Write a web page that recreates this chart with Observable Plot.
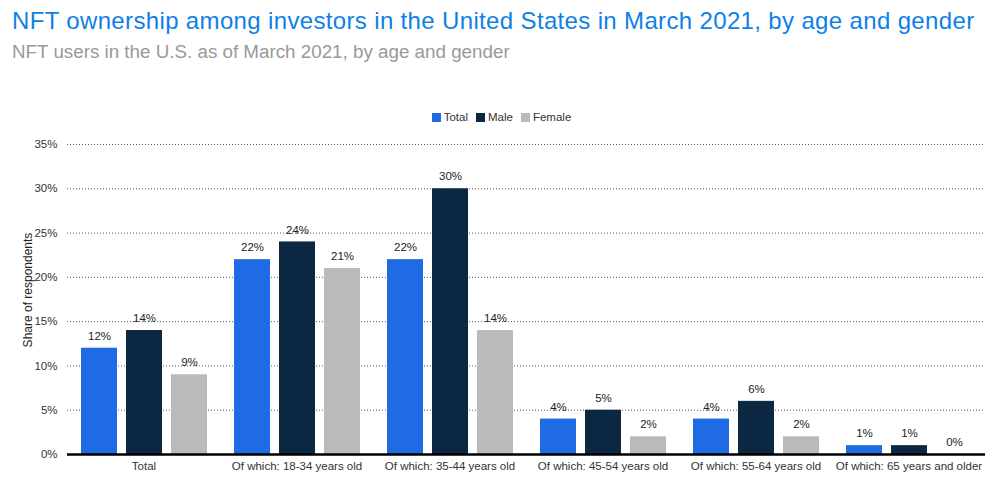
<!DOCTYPE html>
<html><head><meta charset="utf-8">
<script src="https://cdn.jsdelivr.net/npm/d3@7"></script>
<script src="https://cdn.jsdelivr.net/npm/@observablehq/plot@0.6"></script>
<style>
body{margin:0;background:#fff;font-family:"Liberation Sans",Arial,sans-serif;}
#wrap{position:relative;width:1003px;height:481px;overflow:hidden;}
#title{position:absolute;left:12px;top:7px;font-size:24px;letter-spacing:0.35px;color:#0f80e6;white-space:nowrap;line-height:1.15;}
#sub{position:absolute;left:12px;top:41px;font-size:18.8px;color:#999;white-space:nowrap;line-height:1.15;}
#legend{position:absolute;left:0;width:1003px;top:111px;text-align:center;font-size:11.5px;color:#333;}
#legend span{display:inline-block;margin:0 4px;}
#legend i{display:inline-block;width:9px;height:9px;margin-right:3px;vertical-align:-1px;}
#chart{position:absolute;left:0;top:130px;}
#ylabel{position:absolute;left:28px;top:290px;transform:translate(-50%,-50%) rotate(-90deg);font-size:12px;color:#222;white-space:nowrap;z-index:2;}
</style></head><body>
<div id="wrap">
<div id="title">NFT ownership among investors in the United States in March 2021, by age and gender</div>
<div id="sub">NFT users in the U.S. as of March 2021, by age and gender</div>
<div id="legend"></div>
<div id="chart"></div>
<div id="ylabel">Share of respondents</div>
</div>
<script>
const categories = ["Total","Of which: 18-34 years old","Of which: 35-44 years old","Of which: 45-54 years old","Of which: 55-64 years old","Of which: 65 years and older"];
const seriesNames = ["Total","Male","Female"];
const totalValues = [12,22,22,4,4,1];
const maleValues = [14,24,30,5,6,1];
const femaleValues = [9,21,14,2,2,0];
const colors = ["#1f6be3","#0c2742","#bababa"];
const yTicks = [0,5,10,15,20,25,30,35];

const valuesBySeries = [totalValues, maleValues, femaleValues];
const data = [];
categories.forEach((c,i)=>seriesNames.forEach((s,j)=>data.push({category:c, series:s, value:valuesBySeries[j][i]})));

const leg = document.getElementById("legend");
seriesNames.forEach((s,j)=>{
  const sp=document.createElement("span");
  sp.innerHTML=`<i style="background:${colors[j]}"></i>${s}`;
  leg.appendChild(sp);
});

const chart = Plot.plot({
  width:1003, height:351,
  marginTop:14, marginBottom:27, marginLeft:67, marginRight:18,
  style:{fontFamily:"Liberation Sans, Arial, sans-serif", fontSize:"11.5px", color:"#333"},
  fx:{domain:categories, padding:0, label:null, axis:"bottom", tickSize:0, tickPadding:7},
  x:{domain:seriesNames, paddingInner:0.21, paddingOuter:0.285, axis:null},
  y:{domain:[0,35], ticks:yTicks, tickFormat:d=>d+"%", label:null, tickSize:0, tickPadding:10},
  color:{domain:seriesNames, range:colors},
  marks:[
    Plot.gridY(yTicks.filter(d=>d>0), {stroke:"#444", strokeOpacity:0.9, strokeDasharray:"1,2", strokeWidth:1}),
    Plot.barY(data,{fx:"category", x:"series", y:"value", fill:"series"}),
    Plot.text(data,{fx:"category", x:"series", y:"value", text:d=>d.value+"%", dy:-12, fill:"#222", fontSize:11.5}),
    Plot.ruleY([0],{stroke:"#000", strokeWidth:2.5})
  ]
});
document.getElementById("chart").appendChild(chart);
</script>
</body></html>
